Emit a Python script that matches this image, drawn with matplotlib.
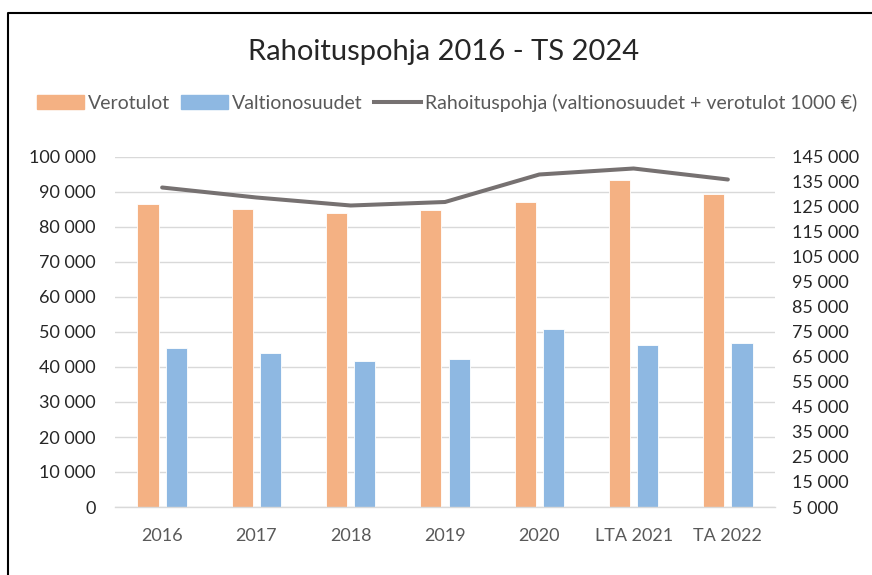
import numpy as np
import matplotlib.pyplot as plt
from matplotlib.lines import Line2D
from matplotlib.patches import Patch

# data
categories = ['2016', '2017', '2018', '2019', '2020', 'LTA 2021', 'TA 2022']
verotulot = [86600, 85100, 84000, 84900, 87100, 93400, 89300]
valtionosuudet = [45400, 43900, 41800, 42300, 50900, 46400, 46900]
rahoituspohja = [132800, 128800, 125600, 127000, 138000, 140400, 136000]

left_ticks = list(range(0, 100001, 10000))
right_ticks = list(range(5000, 145001, 10000))

orange = '#F4B183'
blue = '#8EB8E2'
grey = '#767171'
grid_c = '#D9D9D9'
text_c = '#595959'

plt.rcParams['font.family'] = ['Lato', 'DejaVu Sans']


def fmt(v):
    return f'{v:,}'.replace(',', ' ')


fig = plt.figure(figsize=(8.72, 5.75), dpi=100)
W, H = 872, 575
ax = fig.add_axes([115 / W, 1 - 507 / H, 660 / W, 350 / H])
ax2 = ax.twinx()

x = np.arange(len(categories))
bw = 0.225
ax.bar(x - 0.15, verotulot, bw, color=orange, edgecolor='white', linewidth=0.6, zorder=2)
ax.bar(x + 0.15, valtionosuudet, bw, color=blue, edgecolor='white', linewidth=0.6, zorder=2)
ax2.plot(x, rahoituspohja, color=grey, lw=2.9, solid_capstyle='round', zorder=3)

ax.set_xlim(-0.5, len(categories) - 0.5)
ax.set_ylim(0, 100000)
ax2.set_ylim(5000, 145000)
ax.set_yticks(left_ticks)
ax.set_yticklabels([fmt(v) for v in left_ticks])
ax2.set_yticks(right_ticks)
ax2.set_yticklabels([fmt(v) for v in right_ticks])
ax.set_xticks(x)
ax.set_xticklabels(categories)

ax.grid(axis='y', color=grid_c, lw=1, zorder=0)
ax.set_axisbelow(True)
for a in (ax, ax2):
    for s in a.spines.values():
        s.set_visible(False)
ax.spines['bottom'].set_visible(True)
ax.spines['bottom'].set_color(grid_c)
ax.spines['bottom'].set_linewidth(1)

ax.tick_params(axis='y', length=0, pad=14, labelsize=13, labelcolor='#262626')
ax2.tick_params(axis='y', length=0, pad=12, labelsize=13, labelcolor='#262626')
ax.tick_params(axis='x', length=0, pad=15, labelsize=13, labelcolor=text_c)

fig.text(444 / W, 1 - 52 / H, 'Rahoituspohja 2016 - TS 2024', ha='center', va='center',
         fontsize=21, color='#262626')

handles = [Patch(color=orange), Patch(color=blue), Line2D([], [], color=grey, lw=2.9)]
labels = ['Verotulot', 'Valtionosuudet', 'Rahoituspohja (valtionosuudet + verotulot 1000 €)']
fig.legend(handles, labels, loc='center', bbox_to_anchor=(447 / W, 1 - 103 / H), ncol=3,
           frameon=False, fontsize=14, labelcolor=text_c, handlelength=2.4, handleheight=0.75,
           handletextpad=0.2, columnspacing=0.6)

# outer frame (top and left edges visible in the screenshot)
fig.add_artist(Line2D([8 / W, 8 / W, 1], [0, 1 - 13 / H, 1 - 13 / H], color='black', lw=1.5,
                      transform=fig.transFigure))

fig.savefig('out.png', dpi=100)
